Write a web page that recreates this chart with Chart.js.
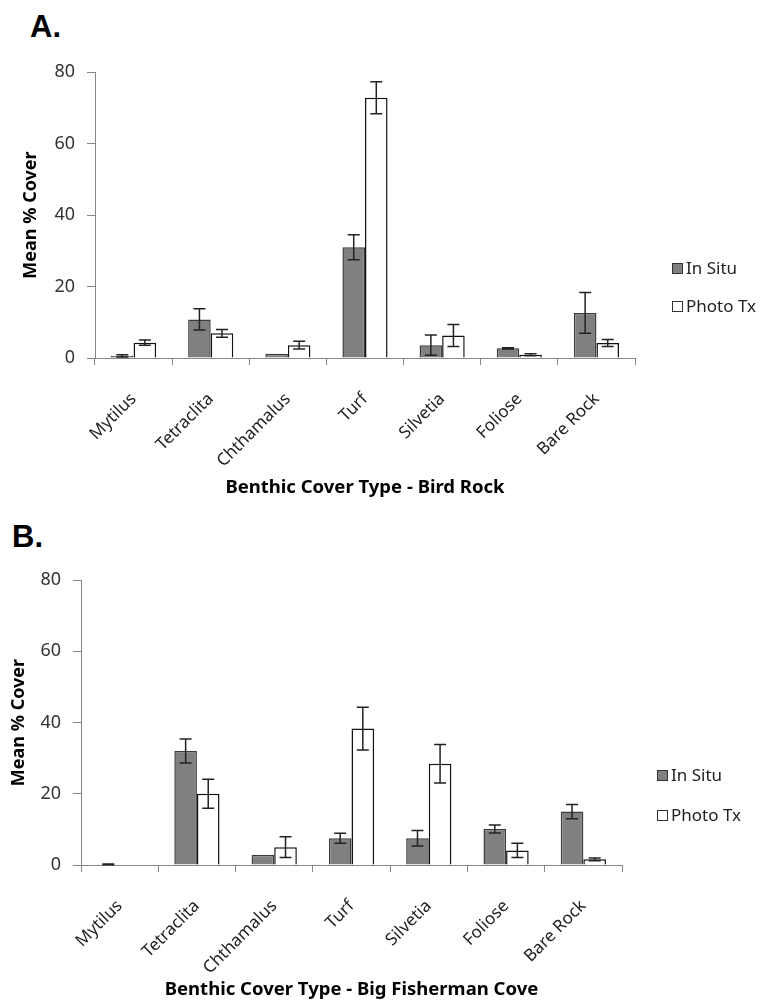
<!DOCTYPE html>
<html>
<head>
<meta charset="utf-8">
<script src="https://cdn.jsdelivr.net/npm/chart.js@4.4.1/dist/chart.umd.min.js"></script>
<style>
  body { margin: 0; background: #fff; width: 772px; height: 1008px; position: relative; overflow: hidden; }
  .panel { position: absolute; left: 0; }
  .letter { position: absolute; font: bold 31px "Liberation Sans", Arial, sans-serif; color: #000; }
  .legend { position: absolute; font: 17px "Noto Sans", sans-serif; color: #222; }
  .legend div { position: absolute; white-space: nowrap; line-height: 20px; }
  .legend span { display: inline-block; width: 9px; height: 9px; border: 1px solid #333; margin-right: 3px; vertical-align: 0px; }
</style>
</head>
<body>
<div class="letter" style="left:30px;top:9px">A.</div>
<div class="panel" style="top:0"><canvas id="chartA" width="772" height="505"></canvas></div>
<div class="legend" style="left:672px;top:258px">
  <div style="top:0"><span style="background:#808080"></span>In Situ</div>
  <div style="top:38px"><span style="background:#fff"></span>Photo Tx</div>
</div>

<div class="letter" style="left:12px;top:519px">B.</div>
<div class="panel" style="top:505px"><canvas id="chartB" width="772" height="503"></canvas></div>
<div class="legend" style="left:657px;top:765px">
  <div style="top:0"><span style="background:#808080"></span>In Situ</div>
  <div style="top:40px"><span style="background:#fff"></span>Photo Tx</div>
</div>

<script>
const categories = ["Mytilus", "Tetraclita", "Chthamalus", "Turf", "Silvetia", "Foliose", "Bare Rock"];
const yTicks = [0, 20, 40, 60, 80];

// A. Bird Rock
const birdInSitu = [0.6, 10.8, 1.2, 31.0, 3.6, 2.7, 12.6];
const birdInSituErr = [0.3, 3.0, 0, 3.5, 2.8, 0.15, 5.7];
const birdPhoto = [4.3, 6.9, 3.6, 72.8, 6.3, 0.9, 4.2];
const birdPhotoErr = [0.75, 1.1, 1.1, 4.5, 3.1, 0.3, 1.0];

// B. Big Fisherman Cove
const coveInSitu = [0.2, 32.0, 2.9, 7.5, 7.5, 10.1, 15.0];
const coveInSituErr = [0.1, 3.4, 0, 1.4, 2.2, 1.1, 2.0];
const covePhoto = [0, 20.0, 5.0, 38.3, 28.4, 4.1, 1.6];
const covePhotoErr = [0, 4.1, 2.9, 6.0, 5.4, 2.0, 0.4];

const axisGray = "#868686";

// draws the error bars on top of the bars
const errorBars = {
  id: "errorBars",
  afterDatasetsDraw(chart) {
    const ctx = chart.ctx;
    const y = chart.scales.y;
    chart.data.datasets.forEach((ds, i) => {
      const meta = chart.getDatasetMeta(i);
      meta.data.forEach((bar, j) => {
        const err = ds.errors[j];
        if (!err) return;
        const v = ds.data[j];
        const top = y.getPixelForValue(v + err);
        const bot = y.getPixelForValue(Math.max(v - err, 0));
        ctx.save();
        ctx.strokeStyle = "#222";
        ctx.lineWidth = 1.5;
        ctx.beginPath();
        ctx.moveTo(bar.x, top); ctx.lineTo(bar.x, bot);
        ctx.moveTo(bar.x - 6, top); ctx.lineTo(bar.x + 6, top);
        ctx.moveTo(bar.x - 6, bot); ctx.lineTo(bar.x + 6, bot);
        ctx.stroke();
        ctx.restore();
      });
    });
  }
};

function makeChart(id, inSitu, inSituErr, photo, photoErr, xTitle, box) {
  const ctx = document.getElementById(id).getContext("2d");
  return new Chart(ctx, {
    type: "bar",
    data: {
      labels: categories,
      datasets: [
        { label: "In Situ", data: inSitu, errors: inSituErr, backgroundColor: "#808080", borderColor: "#3c3c3c", borderWidth: 1.5 },
        { label: "Photo Tx", data: photo, errors: photoErr, backgroundColor: "#ffffff", borderColor: "#111", borderWidth: 1.5 }
      ]
    },
    options: {
      responsive: false,
      animation: false,
      events: [],
      layout: { padding: { top: box.top, right: box.right, left: 0, bottom: 0 } },
      datasets: { bar: { categoryPercentage: 0.585, barPercentage: 1.0 } },
      plugins: { legend: { display: false }, tooltip: { enabled: false } },
      scales: {
        x: {
          afterFit: (s) => { s.height = box.xHeight; },
          grid: { drawOnChartArea: false, drawTicks: true, tickLength: 7, color: axisGray, offset: true },
          border: { color: axisGray, width: 1 },
          ticks: { autoSkip: false, minRotation: 45, maxRotation: 45, padding: 24, color: "#222", font: { family: "Noto Sans", size: 17 } },
          title: { display: true, text: xTitle, color: "#000", font: { family: "Noto Sans", size: 18.5, weight: "bold" }, padding: { top: 4, bottom: box.xTitlePad } }
        },
        y: {
          min: 0, max: 80,
          afterFit: (s) => { s.width = box.yWidth; },
          afterBuildTicks: (s) => { s.ticks = yTicks.map((v) => ({ value: v })); },
          grid: { drawOnChartArea: false, drawTicks: true, tickLength: 8, color: axisGray },
          border: { color: axisGray, width: 1 },
          ticks: { padding: 12, color: "#333", font: { family: "Noto Sans", size: 18 } },
          title: { display: true, text: "Mean % Cover", color: "#000", font: { family: "Noto Sans", size: 18, weight: "bold" }, padding: { top: box.yTitlePad, bottom: 0 } }
        }
      }
    },
    plugins: [errorBars]
  });
}

makeChart("chartA", birdInSitu, birdInSituErr, birdPhoto, birdPhotoErr, "Benthic Cover Type - Bird Rock",
  { top: 72, right: 137, yWidth: 95, xHeight: 147, xTitlePad: 6, yTitlePad: 20 });
makeChart("chartB", coveInSitu, coveInSituErr, covePhoto, covePhotoErr, "Benthic Cover Type - Big Fisherman Cove",
  { top: 75, right: 150, yWidth: 81, xHeight: 143, xTitlePad: 7, yTitlePad: 8 });
</script>
</body>
</html>
